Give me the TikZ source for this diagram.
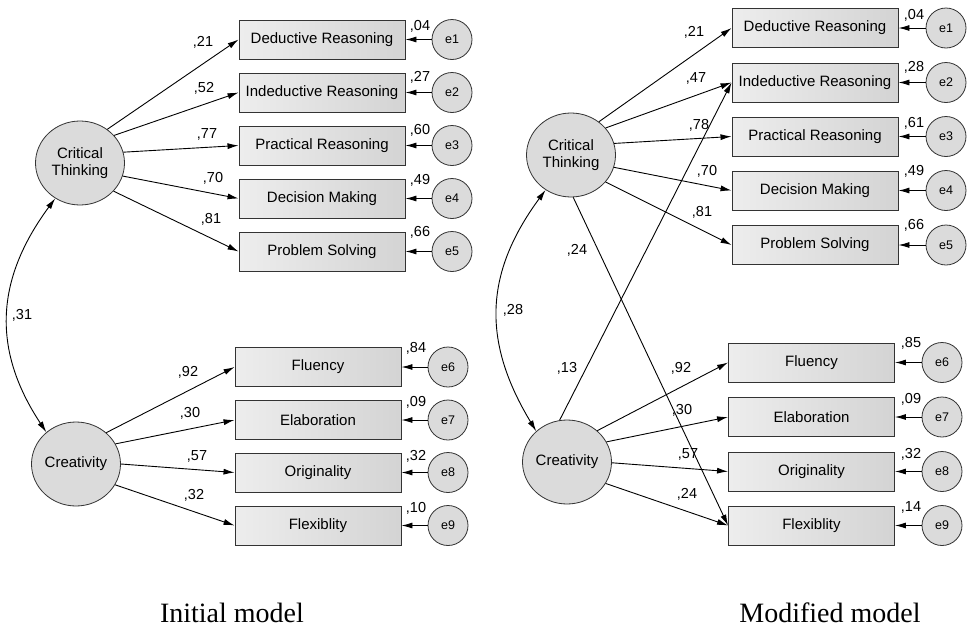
\documentclass[tikz,border=0pt]{standalone}
\usepackage{fontspec}
\setmainfont{Liberation Sans}
\newfontfamily\capfont{Liberation Serif}
\usetikzlibrary{arrows.meta,shapes.geometric}
\tikzset{
  lat/.style={ellipse,draw=black!80,line width=0.8pt,fill=black!14,minimum width=89pt,minimum height=84pt,inner sep=0pt,align=center,font=\fontsize{15}{16.5}\selectfont},
  obs/.style={rectangle,draw=black!80,line width=0.9pt,left color=black!7,right color=black!17,minimum width=166pt,minimum height=39pt,inner sep=0pt,font=\fontsize{15}{16}\selectfont},
  err/.style={circle,draw=black!80,line width=0.8pt,fill=black!14,minimum size=40pt,inner sep=0pt,font=\fontsize{12.5}{14}\selectfont},
  path/.style={draw=black,line width=0.9pt,-{Latex[length=11pt,width=6pt]}},
  cov/.style={draw=black,line width=0.9pt,{Latex[length=11pt,width=6pt]}-{Latex[length=11pt,width=6pt]}},
  coef/.style={font=\fontsize{14.5}{16}\selectfont,inner sep=0pt},
  caption/.style={font=\capfont\fontsize{28}{32}\selectfont,inner sep=0pt}
}
\begin{document}
\begin{tikzpicture}[x=1pt,y=-1pt]
\useasboundingbox (0,0) rectangle (970,627);
% ---------------- Initial model ----------------
\node[lat] (ct1) at (80,163) {Critical\\Thinking};
\node[lat] (cr1) at (76,464) {Creativity};
\node[obs] (a1) at (322,39.5) {Deductive Reasoning};
\node[obs] (a2) at (322,92.5) {Indeductive Reasoning};
\node[obs] (a3) at (322,145.5) {Practical Reasoning};
\node[obs] (a4) at (322,198.5) {Decision Making};
\node[obs] (a5) at (322,251.5) {Problem Solving};
\node[obs] (a6) at (318,367) {Fluency};
\node[obs] (a7) at (318,420) {Elaboration};
\node[obs] (a8) at (318,472.5) {Originality};
\node[obs] (a9) at (318,525.5) {Flexiblity};
\node[err] (ea1) at (452,39.5) {e1};
\node[err] (ea2) at (452,92.5) {e2};
\node[err] (ea3) at (452,145.5) {e3};
\node[err] (ea4) at (452,198.5) {e4};
\node[err] (ea5) at (452,251.5) {e5};
\node[err] (ea6) at (448,367) {e6};
\node[err] (ea7) at (448,420) {e7};
\node[err] (ea8) at (448,472.5) {e8};
\node[err] (ea9) at (448,525.5) {e9};
\draw[path] (ct1.51) -- (a1.west);
\draw[path] (ct1.39) -- (a2.west);
\draw[path] (ct1.14) -- (a3.west);
\draw[path] (ct1.-17) -- (a4.west);
\draw[path] (ct1.-40) -- (a5.west);
\draw[path] (cr1.46) -- (a6.west);
\draw[path] (cr1.27) -- (a7.west);
\draw[path] (cr1.0) -- (a8.west);
\draw[path] (cr1.-28) -- (a9.west);
\foreach \i in {1,...,9} {\draw[path] (ea\i) -- (a\i.east);}
\draw[cov] (ct1.235) .. controls (-5,280) and (-8,350) .. (cr1.133);
\node[coef] at (203,42) {,21};
\node[coef] at (204,88) {,52};
\node[coef] at (207,134) {,77};
\node[coef] at (213,178) {,70};
\node[coef] at (211,219) {,81};
\node[coef] at (420,26) {,04};
\node[coef] at (420,77) {,27};
\node[coef] at (420,130) {,60};
\node[coef] at (420,180) {,49};
\node[coef] at (420,232) {,66};
\node[coef] at (188,372) {,92};
\node[coef] at (190,413) {,30};
\node[coef] at (197,456) {,57};
\node[coef] at (194,495) {,32};
\node[coef] at (416,348) {,84};
\node[coef] at (416,402) {,09};
\node[coef] at (416,456) {,32};
\node[coef] at (416,508) {,10};
\node[coef] at (22,315) {,31};
\node[caption] at (232,613) {Initial model};
% ---------------- Modified model ----------------
\node[lat] (ct2) at (571,155) {Critical\\Thinking};
\node[lat] (cr2) at (567,462) {Creativity};
\node[obs] (b1) at (815,28) {Deductive Reasoning};
\node[obs] (b2) at (815,82.5) {Indeductive Reasoning};
\node[obs] (b3) at (815,136.5) {Practical Reasoning};
\node[obs] (b4) at (815,190.5) {Decision Making};
\node[obs] (b5) at (815,245) {Problem Solving};
\node[obs] (b6) at (811.5,362.5) {Fluency};
\node[obs] (b7) at (811.5,417) {Elaboration};
\node[obs] (b8) at (811.5,471.5) {Originality};
\node[obs] (b9) at (811.5,525.5) {Flexiblity};
\node[err] (eb1) at (946,28) {e1};
\node[err] (eb2) at (946,82.5) {e2};
\node[err] (eb3) at (946,136.5) {e3};
\node[err] (eb4) at (946,190.5) {e4};
\node[err] (eb5) at (946,245) {e5};
\node[err] (eb6) at (942,362.5) {e6};
\node[err] (eb7) at (942,417) {e7};
\node[err] (eb8) at (942,471.5) {e8};
\node[err] (eb9) at (942,525.5) {e9};
\draw[path] (ct2.50) -- (b1.west);
\draw[path] (ct2.38) -- (b2.west);
\draw[path] (ct2.15) -- (b3.west);
\draw[path] (ct2.-16) -- (b4.west);
\draw[path] (ct2.-38) -- (b5.west);
\draw[path] (ct2.-87) -- (b9.west);
\draw[path] (cr2.100) -- (b2.west);
\draw[path] (cr2.46) -- (b6.west);
\draw[path] (cr2.27) -- (b7.west);
\draw[path] (cr2.-1) -- (b8.west);
\draw[path] (cr2.-29) -- (b9.west);
\foreach \i in {1,...,9} {\draw[path] (eb\i) -- (b\i.east);}
\draw[cov] (ct2.234) .. controls (483,275) and (483,343) .. (cr2.135);
\node[coef] at (694,32) {,21};
\node[coef] at (696,78) {,47};
\node[coef] at (699,125) {,78};
\node[coef] at (707,171) {,70};
\node[coef] at (702,212) {,81};
\node[coef] at (914,15) {,04};
\node[coef] at (914,67) {,28};
\node[coef] at (914,123) {,61};
\node[coef] at (914,171) {,49};
\node[coef] at (914,225) {,66};
\node[coef] at (577,250) {,24};
\node[coef] at (567,368) {,13};
\node[coef] at (513,310) {,28};
\node[coef] at (681,368) {,92};
\node[coef] at (682,410) {,30};
\node[coef] at (688,454) {,57};
\node[coef] at (687,494) {,24};
\node[coef] at (911,343) {,85};
\node[coef] at (911,399) {,09};
\node[coef] at (911,454) {,32};
\node[coef] at (911,507) {,14};
\node[caption] at (830,613) {Modified model};
\end{tikzpicture}
\end{document}
